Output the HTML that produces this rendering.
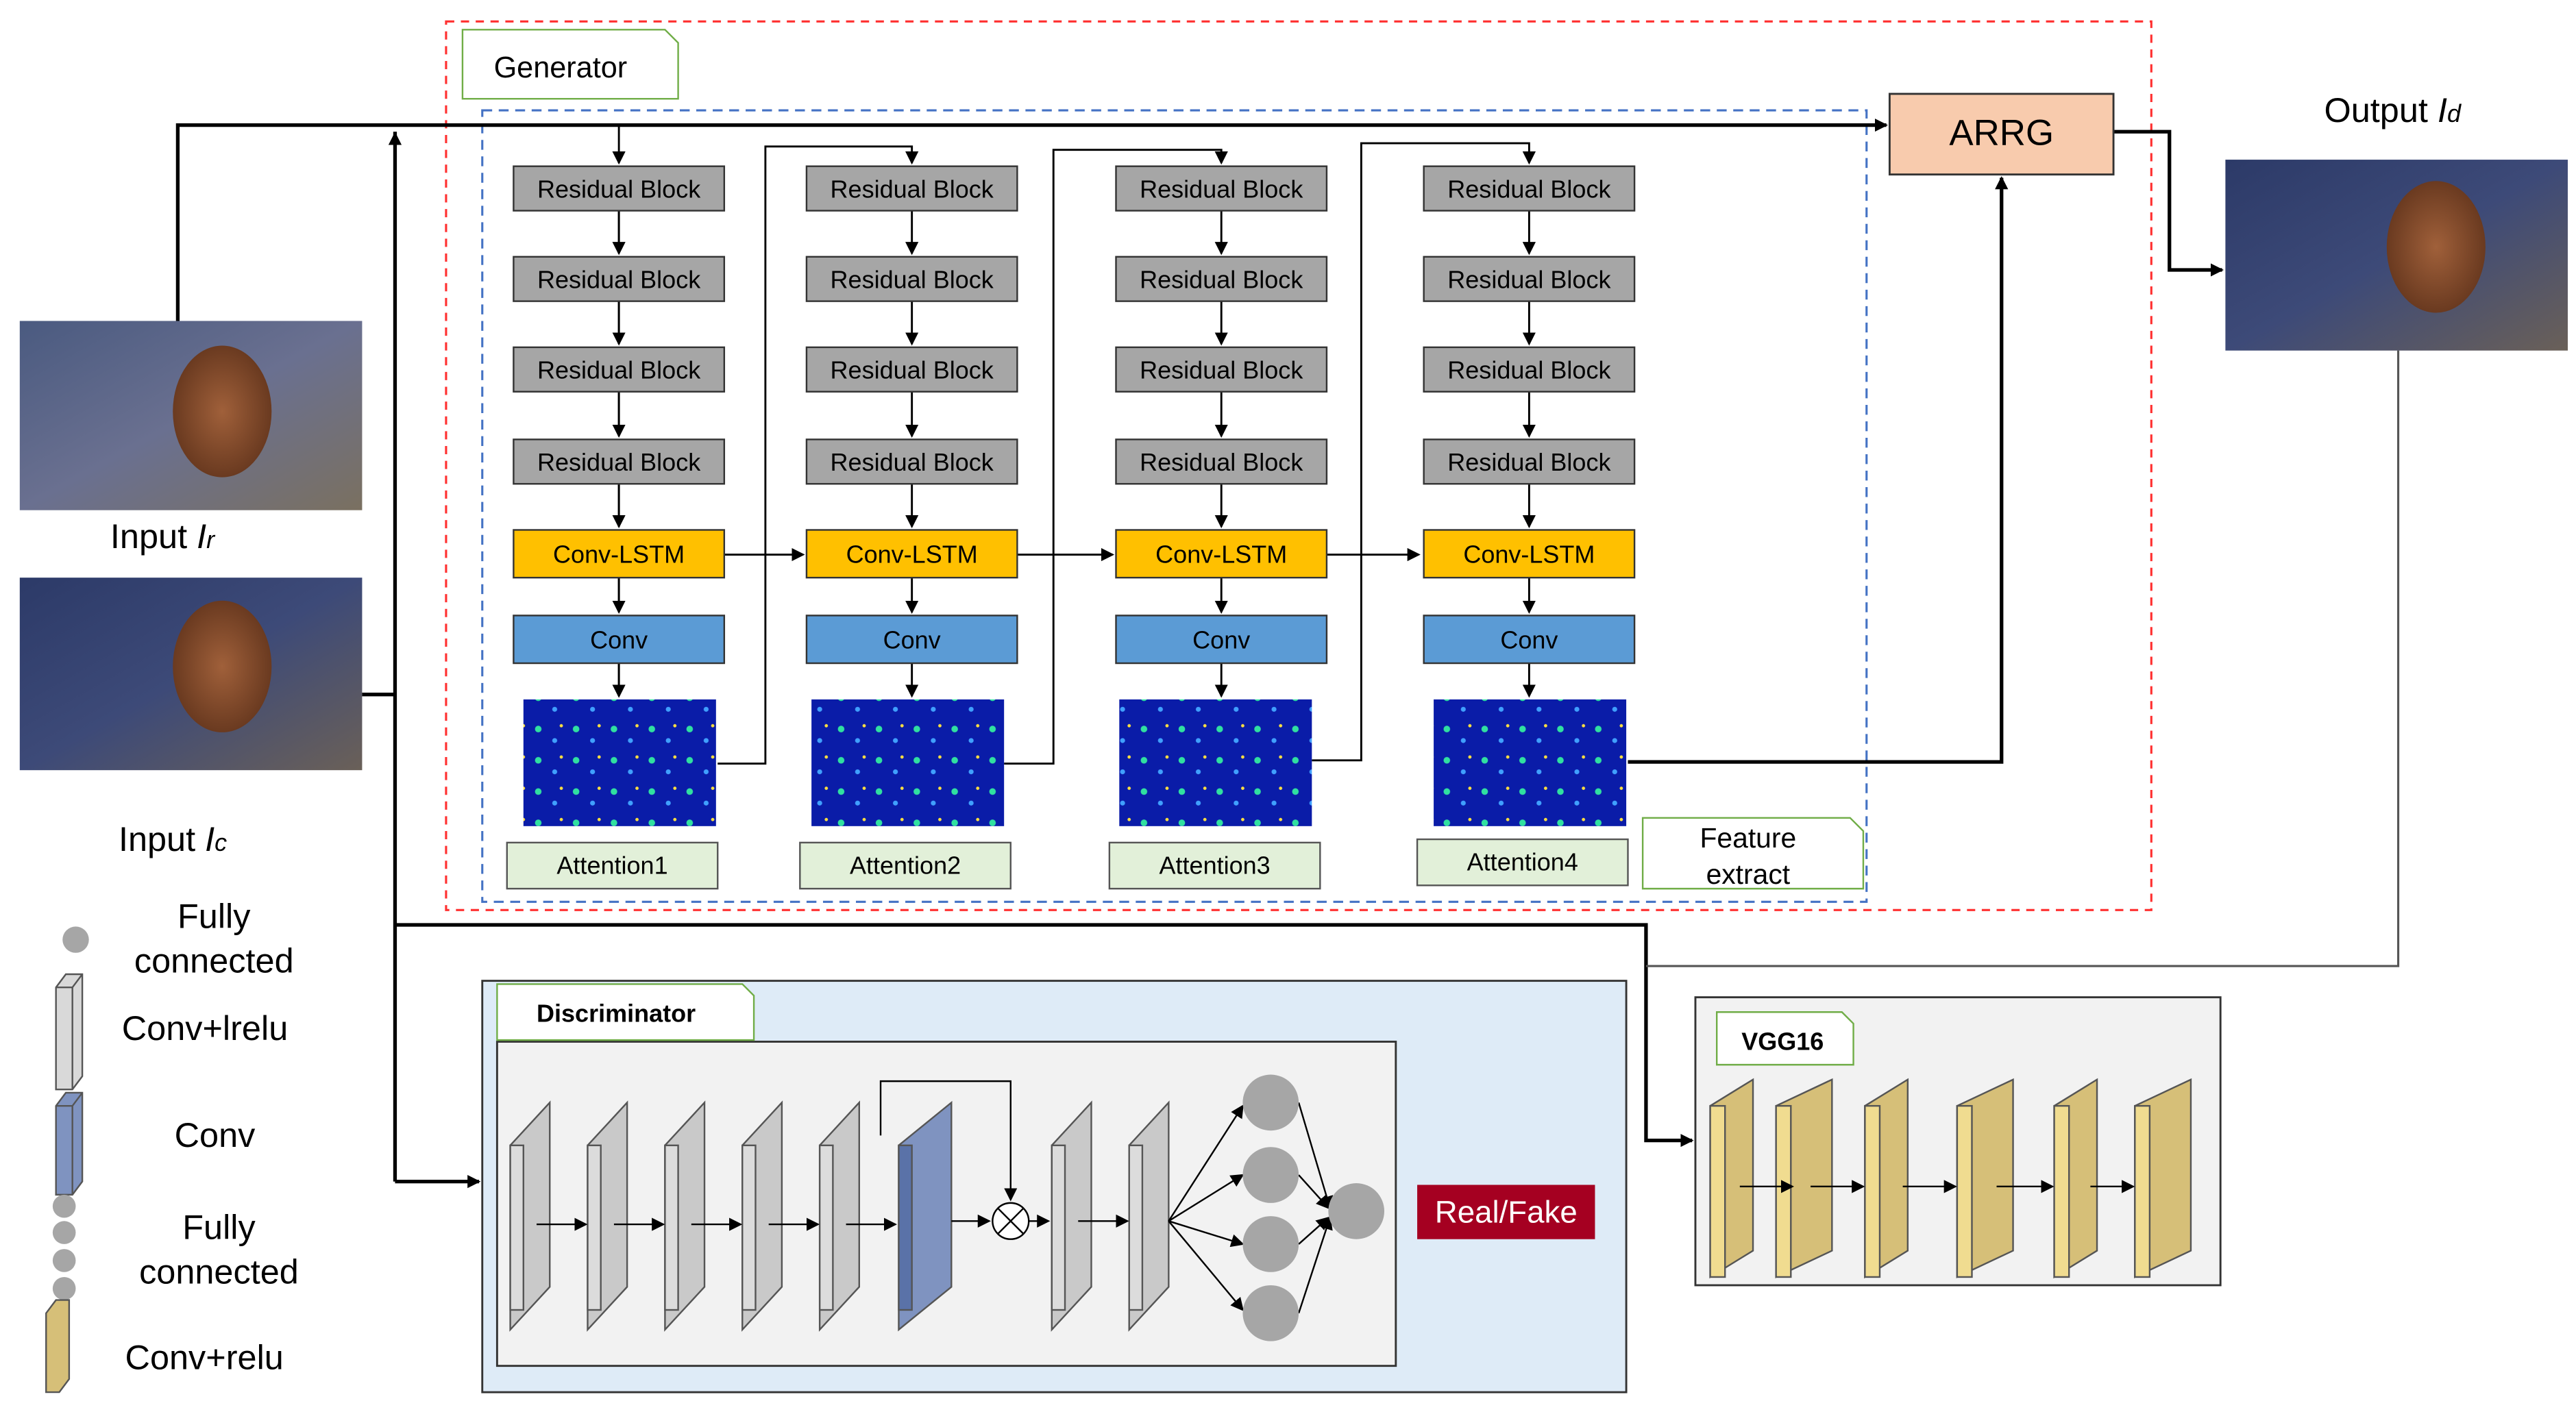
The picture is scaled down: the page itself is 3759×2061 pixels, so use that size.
<!DOCTYPE html>
<html><head><meta charset="utf-8">
<style>
html,body{margin:0;padding:0;background:#fff;}
svg{display:block;}
text{font-family:"Liberation Sans",sans-serif;}
</style></head>
<body>
<svg width="3759" height="2061" viewBox="0 0 1565 858" xmlns="http://www.w3.org/2000/svg">
<defs>
<marker id="a" markerWidth="8" markerHeight="8" refX="7" refY="4" orient="auto" markerUnits="userSpaceOnUse"><path d="M0,0 L8,4 L0,8 z" fill="#000"/></marker>
<linearGradient id="img1" x1="0" y1="0" x2="1" y2="1"><stop offset="0" stop-color="#4a5a80"/><stop offset="0.5" stop-color="#6a7090"/><stop offset="1" stop-color="#7a7060"/></linearGradient>
<linearGradient id="img2" x1="0" y1="0" x2="1" y2="1"><stop offset="0" stop-color="#2c3a68"/><stop offset="0.5" stop-color="#3d4a78"/><stop offset="1" stop-color="#6a6058"/></linearGradient>
<radialGradient id="bear"><stop offset="0" stop-color="#a0603a"/><stop offset="1" stop-color="#6a3a20"/></radialGradient>
<pattern id="att" width="23" height="19" patternUnits="userSpaceOnUse"><rect width="23" height="19" fill="#0a1ca8"/><circle cx="5" cy="6" r="2" fill="#30e0a0"/><circle cx="15" cy="13" r="1.5" fill="#40a0ff"/><circle cx="19" cy="4" r="1" fill="#ffe040"/></pattern>
</defs>

<rect x="271" y="13" width="1036" height="540" fill="none" stroke="#ff3030" stroke-width="1.3" stroke-dasharray="5,4"/>
<path d="M281,18 H404 L412,26 V60 H281 Z" fill="#fff" stroke="#70ad47" stroke-width="1"/>
<text x="300" y="47" font-size="18">Generator</text>
<rect x="293" y="67" width="841" height="481" fill="none" stroke="#4472c4" stroke-width="1.3" stroke-dasharray="6,4"/>

<g stroke="#000" stroke-width="2.2" fill="none">
<path d="M108,195 V76 H1146" marker-end="url(#a)"/>
<path d="M240,718 V80"/>
<path d="M220,422 H240"/>
<path d="M240,718 H291" marker-end="url(#a)"/>
<path d="M240,562 H1000 V693 H1028" marker-end="url(#a)"/>
<path d="M1284,80 H1318 V164 H1350" marker-end="url(#a)"/>
<path d="M989,463 H1216 V108" marker-end="url(#a)"/>
</g>
<path d="M240,80 l-4,8 h8 z" fill="#000"/>
<path d="M1457,213 V587 H1000" stroke="#555" stroke-width="1.3" fill="none"/>

<g stroke="#000" stroke-width="1.2" fill="none">
<path d="M376,76 V99" marker-end="url(#a)"/>
<path d="M436,464 H465 V89 H554 V99" marker-end="url(#a)"/>
<path d="M610,464 H640 V91 H742 V99" marker-end="url(#a)"/>
<path d="M797,462 H827 V87 H929 V99" marker-end="url(#a)"/>
<path d="M440,337 H488" marker-end="url(#a)"/>
<path d="M618,337 H676" marker-end="url(#a)"/>
<path d="M806,337 H862" marker-end="url(#a)"/>
<!-- vertical arrows in columns -->
<path d="M376,128 V154 M376,183 V209 M376,238 V265 M376,294 V320 M376,351 V372 M376,403 V423" marker-end="url(#a)"/>
<path d="M554,128 V154" marker-end="url(#a)"/><path d="M554,183 V209" marker-end="url(#a)"/><path d="M554,238 V265" marker-end="url(#a)"/><path d="M554,294 V320" marker-end="url(#a)"/><path d="M554,351 V372" marker-end="url(#a)"/><path d="M554,403 V423" marker-end="url(#a)"/>
<path d="M742,128 V154" marker-end="url(#a)"/><path d="M742,183 V209" marker-end="url(#a)"/><path d="M742,238 V265" marker-end="url(#a)"/><path d="M742,294 V320" marker-end="url(#a)"/><path d="M742,351 V372" marker-end="url(#a)"/><path d="M742,403 V423" marker-end="url(#a)"/>
<path d="M929,128 V154" marker-end="url(#a)"/><path d="M929,183 V209" marker-end="url(#a)"/><path d="M929,238 V265" marker-end="url(#a)"/><path d="M929,294 V320" marker-end="url(#a)"/><path d="M929,351 V372" marker-end="url(#a)"/><path d="M929,403 V423" marker-end="url(#a)"/>
<path d="M376,128 V154" marker-end="url(#a)"/><path d="M376,183 V209" marker-end="url(#a)"/><path d="M376,238 V265" marker-end="url(#a)"/><path d="M376,294 V320" marker-end="url(#a)"/><path d="M376,351 V372" marker-end="url(#a)"/><path d="M376,403 V423" marker-end="url(#a)"/>
</g>

<!-- residual blocks -->
<g fill="#a6a6a6" stroke="#333" stroke-width="1">
<rect x="312" y="101" width="128" height="27"/><rect x="312" y="156" width="128" height="27"/><rect x="312" y="211" width="128" height="27"/><rect x="312" y="267" width="128" height="27"/>
<rect x="490" y="101" width="128" height="27"/><rect x="490" y="156" width="128" height="27"/><rect x="490" y="211" width="128" height="27"/><rect x="490" y="267" width="128" height="27"/>
<rect x="678" y="101" width="128" height="27"/><rect x="678" y="156" width="128" height="27"/><rect x="678" y="211" width="128" height="27"/><rect x="678" y="267" width="128" height="27"/>
<rect x="865" y="101" width="128" height="27"/><rect x="865" y="156" width="128" height="27"/><rect x="865" y="211" width="128" height="27"/><rect x="865" y="267" width="128" height="27"/>
</g>
<g fill="#ffc000" stroke="#333" stroke-width="1">
<rect x="312" y="322" width="128" height="29"/><rect x="490" y="322" width="128" height="29"/><rect x="678" y="322" width="128" height="29"/><rect x="865" y="322" width="128" height="29"/>
</g>
<g fill="#5b9bd5" stroke="#333" stroke-width="1">
<rect x="312" y="374" width="128" height="29"/><rect x="490" y="374" width="128" height="29"/><rect x="678" y="374" width="128" height="29"/><rect x="865" y="374" width="128" height="29"/>
</g>
<g fill="url(#att)">
<rect x="318" y="425" width="117" height="77"/><rect x="493" y="425" width="117" height="77"/><rect x="680" y="425" width="117" height="77"/><rect x="871" y="425" width="117" height="77"/>
</g>
<g fill="#e2f0d9" stroke="#555" stroke-width="1">
<rect x="308" y="512" width="128" height="28"/><rect x="486" y="512" width="128" height="28"/><rect x="674" y="512" width="128" height="28"/><rect x="861" y="510" width="128" height="28"/>
</g>
<g font-size="15" text-anchor="middle">
<text x="376" y="120">Residual Block</text><text x="376" y="175">Residual Block</text><text x="376" y="230">Residual Block</text><text x="376" y="286">Residual Block</text>
<text x="554" y="120">Residual Block</text><text x="554" y="175">Residual Block</text><text x="554" y="230">Residual Block</text><text x="554" y="286">Residual Block</text>
<text x="742" y="120">Residual Block</text><text x="742" y="175">Residual Block</text><text x="742" y="230">Residual Block</text><text x="742" y="286">Residual Block</text>
<text x="929" y="120">Residual Block</text><text x="929" y="175">Residual Block</text><text x="929" y="230">Residual Block</text><text x="929" y="286">Residual Block</text>
<text x="376" y="342">Conv-LSTM</text><text x="554" y="342">Conv-LSTM</text><text x="742" y="342">Conv-LSTM</text><text x="929" y="342">Conv-LSTM</text>
<text x="376" y="394">Conv</text><text x="554" y="394">Conv</text><text x="742" y="394">Conv</text><text x="929" y="394">Conv</text>
<text x="372" y="531">Attention1</text><text x="550" y="531">Attention2</text><text x="738" y="531">Attention3</text><text x="925" y="529">Attention4</text>
</g>

<path d="M998,497 H1124 L1132,505 V540 H998 Z" fill="#fff" stroke="#70ad47" stroke-width="1"/>
<text x="1062" y="515" font-size="17" text-anchor="middle">Feature</text>
<text x="1062" y="537" font-size="17" text-anchor="middle">extract</text>

<rect x="1148" y="57" width="136" height="49" fill="#f8cbad" stroke="#333" stroke-width="1.2"/>
<text x="1216" y="88" font-size="22" text-anchor="middle">ARRG</text>

<rect x="12" y="195" width="208" height="115" fill="url(#img1)"/>
<ellipse cx="135" cy="250" rx="30" ry="40" fill="url(#bear)"/>
<rect x="12" y="351" width="208" height="117" fill="url(#img2)"/>
<ellipse cx="135" cy="405" rx="30" ry="40" fill="url(#bear)"/>
<rect x="1352" y="97" width="208" height="116" fill="url(#img2)"/>
<ellipse cx="1480" cy="150" rx="30" ry="40" fill="url(#bear)"/>
<text x="67" y="333" font-size="21">Input <tspan font-style="italic">I</tspan><tspan font-style="italic" font-size="15">r</tspan></text>
<text x="72" y="517" font-size="21">Input <tspan font-style="italic">I</tspan><tspan font-style="italic" font-size="15">c</tspan></text>
<text x="1412" y="74" font-size="21">Output <tspan font-style="italic">I</tspan><tspan font-style="italic" font-size="15">d</tspan></text>

<circle cx="46" cy="571" r="8" fill="#a6a6a6"/>
<text x="130" y="564" font-size="21" text-anchor="middle">Fully</text>
<text x="130" y="591" font-size="21" text-anchor="middle">connected</text>
<path d="M34,600 l6,-8 h10 v62 l-6,8 h-10 z" fill="#d9d9d9" stroke="#555"/>
<path d="M34,600 h10 l6,-8 M44,600 v62" stroke="#555" fill="none"/>
<text x="74" y="632" font-size="21">Conv+lrelu</text>
<path d="M34,672 l6,-8 h10 v54 l-6,8 h-10 z" fill="#7f93c0" stroke="#555"/>
<path d="M34,672 h10 l6,-8 M44,672 v54" stroke="#555" fill="none"/>
<text x="106" y="697" font-size="21">Conv</text>
<circle cx="39" cy="733" r="7" fill="#a6a6a6"/><circle cx="39" cy="749" r="7" fill="#a6a6a6"/><circle cx="39" cy="766" r="7" fill="#a6a6a6"/><circle cx="39" cy="783" r="7" fill="#a6a6a6"/>
<text x="133" y="753" font-size="21" text-anchor="middle">Fully</text>
<text x="133" y="780" font-size="21" text-anchor="middle">connected</text>
<path d="M28,798 l6,-8 h8 v48 l-6,8 h-8 z" fill="#d6bf78" stroke="#555"/>
<text x="76" y="832" font-size="21">Conv+relu</text>

<!-- discriminator -->
<rect x="293" y="596" width="695" height="250" fill="#deebf7" stroke="#333" stroke-width="1.2"/>
<rect x="302" y="633" width="546" height="197" fill="#f2f2f2" stroke="#333" stroke-width="1.2"/>
<path d="M302,598 H451 L458,605 V632 H302 Z" fill="#fff" stroke="#70ad47" stroke-width="1"/>
<text x="326" y="621" font-size="15" font-weight="bold">Discriminator</text>
<g stroke="#555" stroke-width="1">
<path d="M310,696 l24,-26 v112 l-24,26 z" fill="#c9c9c9"/><rect x="310" y="696" width="8" height="100" fill="#dcdcdc"/>
<path d="M357,696 l24,-26 v112 l-24,26 z" fill="#c9c9c9"/><rect x="357" y="696" width="8" height="100" fill="#dcdcdc"/>
<path d="M404,696 l24,-26 v112 l-24,26 z" fill="#c9c9c9"/><rect x="404" y="696" width="8" height="100" fill="#dcdcdc"/>
<path d="M451,696 l24,-26 v112 l-24,26 z" fill="#c9c9c9"/><rect x="451" y="696" width="8" height="100" fill="#dcdcdc"/>
<path d="M498,696 l24,-26 v112 l-24,26 z" fill="#c9c9c9"/><rect x="498" y="696" width="8" height="100" fill="#dcdcdc"/>
<path d="M546,696 l32,-26 v112 l-32,26 z" fill="#7f93c0"/><rect x="546" y="696" width="8" height="100" fill="#5a72a8"/>
<path d="M639,696 l24,-26 v112 l-24,26 z" fill="#c9c9c9"/><rect x="639" y="696" width="8" height="100" fill="#dcdcdc"/>
<path d="M686,696 l24,-26 v112 l-24,26 z" fill="#c9c9c9"/><rect x="686" y="696" width="8" height="100" fill="#dcdcdc"/>
</g>
<g stroke="#000" stroke-width="1" fill="none">
<path d="M326,744 H356" marker-end="url(#a)"/><path d="M373,744 H403" marker-end="url(#a)"/><path d="M420,744 H450" marker-end="url(#a)"/><path d="M467,744 H497" marker-end="url(#a)"/><path d="M514,744 H544" marker-end="url(#a)"/>
<path d="M578,742 H601" marker-end="url(#a)"/>
<path d="M625,742 H637" marker-end="url(#a)"/>
<path d="M535,690 V657 H614 V729" marker-end="url(#a)"/>
<path d="M655,742 H685" marker-end="url(#a)"/>
<path d="M710,742 L755,672" marker-end="url(#a)"/><path d="M710,742 L755,714" marker-end="url(#a)"/><path d="M710,742 L755,756" marker-end="url(#a)"/><path d="M710,742 L755,796" marker-end="url(#a)"/>
<path d="M789,670 L808,734" marker-end="url(#a)"/><path d="M789,714 L807,734" marker-end="url(#a)"/><path d="M789,756 L807,740" marker-end="url(#a)"/><path d="M789,798 L808,740" marker-end="url(#a)"/>
</g>
<circle cx="614" cy="742" r="11" fill="#fff" stroke="#000"/><path d="M606,734 L622,750 M622,734 L606,750" stroke="#000"/>
<g fill="#a6a6a6"><circle cx="772" cy="670" r="17"/><circle cx="772" cy="714" r="17"/><circle cx="772" cy="756" r="17"/><circle cx="772" cy="798" r="17"/><circle cx="824" cy="736" r="17"/></g>
<rect x="861" y="720" width="108" height="33" fill="#a50021"/>
<text x="915" y="743" font-size="19" fill="#fff" text-anchor="middle">Real/Fake</text>

<!-- VGG -->
<rect x="1030" y="606" width="319" height="175" fill="#f2f2f2" stroke="#333" stroke-width="1.2"/>
<path d="M1043,615 H1119 L1126,622 V647 H1043 Z" fill="#fff" stroke="#70ad47" stroke-width="1"/>
<text x="1058" y="638" font-size="15" font-weight="bold">VGG16</text>
<g stroke="#555" stroke-width="1">
<path d="M1039,672 l26,-16 v104 l-26,16 z" fill="#d6bf78"/><rect x="1039" y="672" width="9" height="104" fill="#f0dc90"/>
<path d="M1079,672 l34,-16 v104 l-34,16 z" fill="#d6bf78"/><rect x="1079" y="672" width="9" height="104" fill="#f0dc90"/>
<path d="M1133,672 l26,-16 v104 l-26,16 z" fill="#d6bf78"/><rect x="1133" y="672" width="9" height="104" fill="#f0dc90"/>
<path d="M1189,672 l34,-16 v104 l-34,16 z" fill="#d6bf78"/><rect x="1189" y="672" width="9" height="104" fill="#f0dc90"/>
<path d="M1248,672 l26,-16 v104 l-26,16 z" fill="#d6bf78"/><rect x="1248" y="672" width="9" height="104" fill="#f0dc90"/>
<path d="M1297,672 l34,-16 v104 l-34,16 z" fill="#d6bf78"/><rect x="1297" y="672" width="9" height="104" fill="#f0dc90"/>
</g>
<g stroke="#000" stroke-width="1">
<path d="M1057,721 H1089" marker-end="url(#a)"/><path d="M1100,721 H1132" marker-end="url(#a)"/><path d="M1156,721 H1188" marker-end="url(#a)"/><path d="M1213,721 H1247" marker-end="url(#a)"/><path d="M1270,721 H1296" marker-end="url(#a)"/>
</g>
</svg>
</body></html>
